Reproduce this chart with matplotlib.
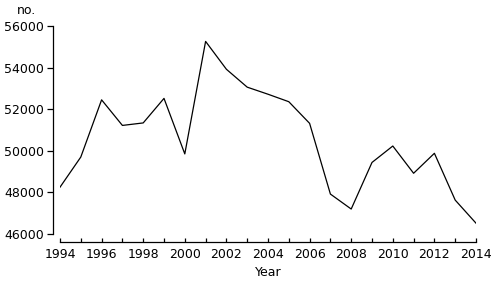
import matplotlib
matplotlib.use('Agg')
import matplotlib.pyplot as plt
import numpy as np

years = np.arange(1994, 2015)
values = [48250, 49700, 52450, 51220, 51340, 52520, 49850, 55260, 53920,
          53060, 52720, 52360, 51320, 47920, 47200, 49440, 50230, 48920,
          49880, 47630, 46520]

plt.rcParams.update({
    'font.family': 'DejaVu Sans',
    'font.size': 9,
})

fig = plt.figure(figsize=(4.96, 2.84), dpi=100)
ax = fig.add_axes([60 / 496, 50 / 284, 416 / 496, 208 / 284])

ax.plot(years, values, color='black', linewidth=0.9)

ax.set_xlim(1994, 2014)
ax.set_ylim(46000, 56000)
ax.set_xticks(np.arange(1994, 2015, 2))
ax.set_xticks(years, minor=True)
ax.set_yticks(np.arange(46000, 56001, 2000))

ax.spines['top'].set_visible(False)
ax.spines['right'].set_visible(False)
ax.spines['left'].set_position(('outward', 5))
ax.spines['bottom'].set_position(('outward', 5.8))
for s in ('left', 'bottom'):
    ax.spines[s].set_linewidth(0.9)

ax.tick_params(axis='y', direction='out', length=4.3, width=0.9, pad=2)
ax.tick_params(axis='x', which='both', direction='in', length=3, width=0.9, pad=4)

ax.set_xlabel('Year', labelpad=4)
fig.text(27 / 496, 1 - 10 / 284, 'no.', ha='center', va='center')

fig.savefig('out.png', dpi=100)
